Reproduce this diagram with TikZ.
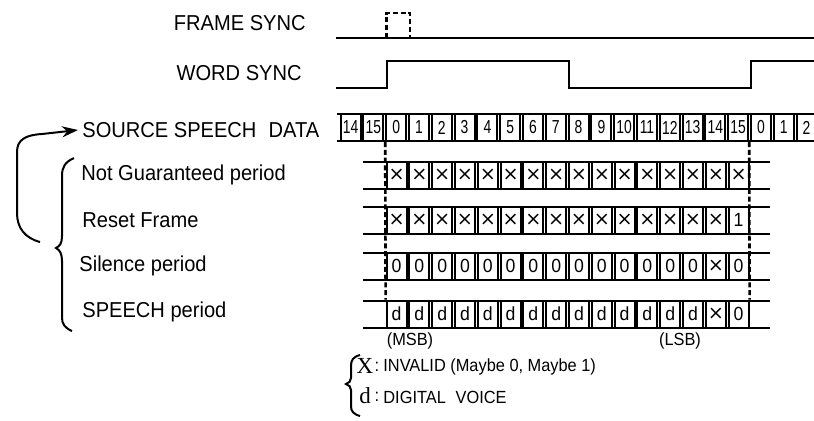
\documentclass[tikz,border=0pt]{standalone}
\usepackage{fontspec}
\setmainfont{Liberation Sans}[FakeStretch=0.93]
\newfontfamily\serifx{Liberation Serif}
\newfontfamily\narrowf{Liberation Sans}[FakeStretch=0.74]
\newfontfamily\crossf{DejaVu Sans}
\usetikzlibrary{arrows.meta}
\begin{document}
\begin{tikzpicture}[x=0.5pt,y=-0.5pt,
  wire/.style={line width=1pt},
  dashwire/.style={line width=1.3pt,dash pattern=on 2.5pt off 1.4pt},
  cell/.style={draw,line width=1pt,minimum width=10pt,minimum height=13.5pt,inner sep=0pt,font=\fontsize{9.5}{9.5}\selectfont},
  scell/.style={cell,font=\narrowf\fontsize{9.4}{9.4}\selectfont},
  xcell/.style={cell,font=\crossf\fontsize{9.6}{9.6}\selectfont},
  biglabel/.style={font=\fontsize{10.8}{12}\selectfont,inner sep=0pt},
  smalllabel/.style={font=\fontsize{8.8}{10}\selectfont,inner sep=0pt},
  legsym/.style={font=\serifx\fontsize{11.5}{12}\selectfont,inner sep=0pt},
]
\useasboundingbox (0,0) rectangle (814,420);

% labels
\node[biglabel,anchor=east] (fs) at (306,23) {FRAME SYNC};
\node[biglabel,anchor=east] (ws) at (302,73) {WORD SYNC};
\node[biglabel,anchor=west] (ssd) at (82,130) {SOURCE SPEECH\hspace{0.3em} DATA};
\node[biglabel,anchor=west] (ng) at (81,175) {Not Guaranteed period};
\node[biglabel,anchor=west] (rf) at (82,220) {Reset Frame};
\node[biglabel,anchor=west] (sp) at (79,266) {Silence period};
\node[biglabel,anchor=west] (spe) at (82,312) {SPEECH period};

% frame sync
\draw[wire] (336,38) -- (814,38);
\draw[dashwire] (386.6,38) -- (386.6,13) -- (410,13) -- (410,38);
% word sync
\draw[wire] (336,88) -- (386.6,88) -- (386.6,61) -- (569,61) -- (569,88) -- (751.4,88) -- (751.4,61) -- (814,61);

% source row
\draw[wire] (337,114) -- (814,114);
\draw[wire] (337,141) -- (814,141);
\foreach \lab [count=\i from 0] in {14,15,0,1,2,3,4,5,6,7,8,9,10,11,12,13,14,15,0,1,2}
  \node[scell] (s\i) at ({350.6+22.8*\i},127.5) {\lab};

% data rows
\foreach \y in {175,220,266,314}{
  \draw[wire] (363,\y-13.5) -- (770,\y-13.5);
  \draw[wire] (363,\y+13.5) -- (770,\y+13.5);
}
\foreach \i in {0,...,15}
  \node[xcell] (a\i) at ({396.6+22.8*\i},175) {×};
\foreach \i in {0,...,14}
  \node[xcell] (b\i) at ({396.6+22.8*\i},220) {×};
\node[cell] (b15) at ({396.6+22.8*15},220) {1};
\foreach \i in {0,...,13}
  \node[cell] (c\i) at ({396.6+22.8*\i},266) {0};
\node[xcell] (c14) at ({396.6+22.8*14},266) {×};
\node[cell] (c15) at ({396.6+22.8*15},266) {0};
\foreach \i in {0,...,13}
  \node[cell] (e\i) at ({396.6+22.8*\i},314) {d};
\node[xcell] (e14) at ({396.6+22.8*14},314) {×};
\node[cell] (e15) at ({396.6+22.8*15},314) {0};

% dashed frame boundaries
\draw[dashwire] (s2.south west) -- (e0.north west);
\draw[dashwire] (s17.south east) -- (e15.north east);

% MSB / LSB
\node[smalllabel] (msb) at (410,341) {(MSB)};
\node[smalllabel] (lsb) at (680,341) {(LSB)};

% left brace
\draw[line width=1pt] (74,158) .. controls (65,162) and (62,167) .. (62,176) -- (62,236)
  .. controls (62,243) and (60,246) .. (56,248) .. controls (60,250) and (62,254) .. (62,261)
  -- (62,318) .. controls (62,324) and (65,328) .. (72,331);
% arrow back to source
\coordinate (arrstart) at (40,242);
\draw[line width=1pt,-{Stealth[length=8pt,width=5.5pt]}] (arrstart) .. controls (25,238) and (17,228) .. (17,213)
  -- (17,152) .. controls (17,140) and (25,135) .. (42,134) -- ([xshift=-2pt]ssd.west);

% legend
\draw[line width=1pt] (360,355) .. controls (353,357) and (351,360) .. (351,366) -- (351,378)
  .. controls (351,381) and (349,383) .. (346,384) .. controls (349,385) and (351,387) .. (351,390)
  -- (351,406) .. controls (351,411) and (353,414) .. (360,416);
\node[legsym] (lx) at (365,366) {X};
\node[smalllabel] (lxc) at (377,367) {:};
\node[smalllabel,anchor=west] (lxt) at (383,367) {INVALID (Maybe 0, Maybe 1)};
\node[legsym] (ld) at (365,396) {d};
\node[smalllabel] (ldc) at (377,397) {:};
\node[smalllabel,anchor=west] (ldt) at (383,397) {DIGITAL\hspace{0.3em} VOICE};
\end{tikzpicture}
\end{document}
